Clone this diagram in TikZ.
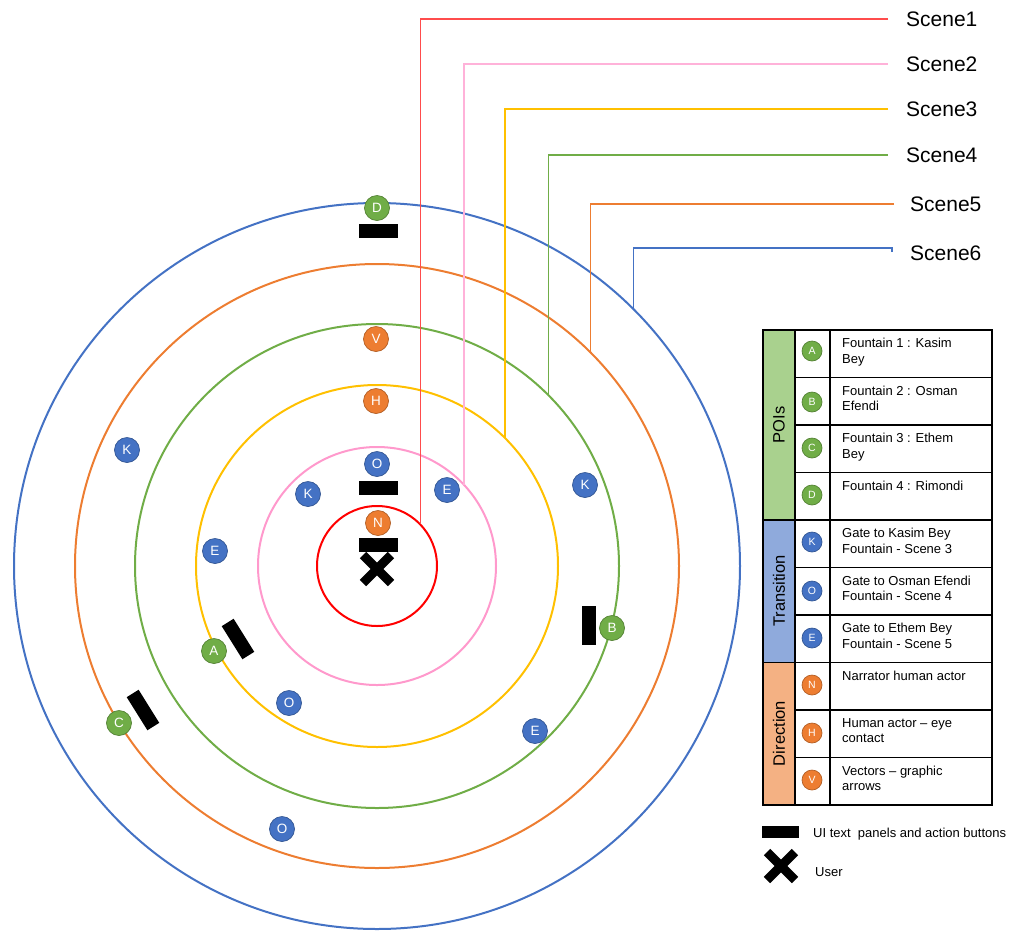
\documentclass[tikz,border=0pt]{standalone}
\usepackage{fontspec}
\setmainfont{Liberation Sans}
\usetikzlibrary{shapes.misc}

\definecolor{cRed}{HTML}{FF0000}
\definecolor{cPink}{HTML}{FF99CC}
\definecolor{cYellow}{HTML}{FFC000}
\definecolor{cGreen}{HTML}{70AD47}
\definecolor{cOrange}{HTML}{ED7D31}
\definecolor{cBlue}{HTML}{4472C4}
\definecolor{cPOI}{HTML}{A9D18E}
\definecolor{cTrans}{HTML}{8FAADC}
\definecolor{cDir}{HTML}{F4B183}

\begin{document}
\begin{tikzpicture}[x=1pt,y=-1pt,
  ring/.style={circle, draw, line width=2pt, inner sep=0pt, outer sep=0pt, minimum size=#1},
  sceneline/.style={draw=#1, line width=1.1pt},
  scenelab/.style={anchor=west, inner xsep=18pt, inner ysep=0pt, font=\fontsize{21}{21}\selectfont},
  mk/.style={circle, fill=#1, draw=#1!75!black, line width=0.7pt, minimum size=25pt, inner sep=0pt,
    text=white, font=\fontsize{13.5}{13.5}\selectfont},
  lmk/.style={mk=#1, minimum size=20pt, font=\fontsize{10.5}{10.5}\selectfont},
  bar/.style={rectangle, fill=black, minimum width=39pt, minimum height=14pt, inner sep=0pt},
  userx/.style={cross out, draw=black, line width=9pt, minimum size=19pt, inner sep=0pt},
  legtext/.style={anchor=north west, inner sep=1pt, align=left, font=\fontsize{13}{15.5}\selectfont},
  cattext/.style={rotate=90, font=\fontsize{16.5}{16.5}\selectfont},
  grid/.style={line width=1.3pt}
]
\useasboundingbox (0,0) rectangle (1010,930);

% concentric scene rings
\node[ring=120pt, draw=cRed]    (r1) at (377,566) {};
\node[ring=238pt, draw=cPink]   (r2) at (377,566) {};
\node[ring=362pt, draw=cYellow] (r3) at (377,566) {};
\node[ring=484pt, draw=cGreen]  (r4) at (377,566) {};
\node[ring=604pt, draw=cOrange] (r5) at (377,566) {};
\node[ring=726pt, draw=cBlue]   (r6) at (377,566) {};

% scene labels and their leader lines
\node[scenelab] (lab1) at (888,19)  {Scene1};
\node[scenelab] (lab2) at (888,64)  {Scene2};
\node[scenelab] (lab3) at (888,109) {Scene3};
\node[scenelab] (lab4) at (888,155) {Scene4};
\node[scenelab, inner xsep=16pt] (lab5) at (894,204) {Scene5};
\node[scenelab, inner xsep=16pt] (lab6) at (894,253) {Scene6};

\draw[sceneline=cRed!70]    (lab1.west) -| (r1.44.2);
\draw[sceneline=cPink!75]   (lab2.west) -| (r2.43.9);
\draw[sceneline=cYellow]    (lab3.west) -| (r3.45.0);
\draw[sceneline=cGreen]     (lab4.west) -| (r4.45.4);
\draw[sceneline=cOrange]    (lab5.west) -| (r5.45.2);
\draw[sceneline=cBlue]      (lab6.west) ++(-2,-1) -- ++(0,-4) -| (r6.45.2);

% points of interest, transitions, direction cues and panels
\node[mk=cGreen]  (D)  at (377,208) {D};
\node[bar]        (barD) at (378,231) {};
\node[mk=cOrange] (V)  at (376,339) {V};
\node[mk=cOrange] (H)  at (376,401) {H};
\node[mk=cBlue]   (O1) at (377,464) {O};
\node[bar]        (barO) at (378,488) {};
\node[mk=cBlue]   (K1) at (308,494) {K};
\node[mk=cBlue]   (E1) at (447,490) {E};
\node[mk=cOrange] (N)  at (378,523) {N};
\node[bar]        (barN) at (378,545) {};
\node[userx]      (user) at (377,569) {};
\node[mk=cBlue]   (K2) at (127,450) {K};
\node[mk=cBlue]   (E2) at (215,551) {E};
\node[mk=cBlue]   (K3) at (585,485) {K};
\node[mk=cGreen]  (A)  at (214,651) {A};
\node[bar, rotate=-58] (barA) at (238,639) {};
\node[mk=cGreen]  (C)  at (119,723) {C};
\node[bar, rotate=-58] (barC) at (143,710) {};
\node[mk=cBlue]   (O2) at (289,703) {O};
\node[mk=cBlue]   (E3) at (535,731) {E};
\node[mk=cBlue]   (O3) at (282,829) {O};
\node[bar, rotate=90] (barB) at (589,625) {};
\node[mk=cGreen]  (B)  at (612,628) {B};

% legend table
\fill[cPOI]   (763,330)   rectangle (795,520);
\fill[cTrans] (763,520)   rectangle (795,662.5);
\fill[cDir]   (763,662.5) rectangle (795,805);
\draw[grid] (763,330) rectangle (992,805);
\draw[grid] (795,330) -- (795,805);
\draw[grid] (830,330) -- (830,805);
\foreach \yy in {377.5,425,472.5,567.5,615,710,757.5}
  \draw[grid] (795,\yy) -- (992,\yy);
\draw[grid] (763,520) -- (992,520);
\draw[grid] (763,662.5) -- (992,662.5);

\node[cattext] (catP) at (779,425)   {POIs};
\node[cattext] (catT) at (779,591)   {Transition};
\node[cattext] (catD) at (779,733.5) {Direction};

\node[lmk=cGreen]  (lA) at (812,351) {A};
\node[lmk=cGreen]  (lB) at (812,402) {B};
\node[lmk=cGreen]  (lC) at (812,448) {C};
\node[lmk=cGreen]  (lD) at (812,495) {D};
\node[lmk=cBlue]   (lK) at (812,542) {K};
\node[lmk=cBlue]   (lO) at (812,591) {O};
\node[lmk=cBlue]   (lE) at (812,638) {E};
\node[lmk=cOrange] (lN) at (812,685) {N};
\node[lmk=cOrange] (lH) at (812,733) {H};
\node[lmk=cOrange] (lV) at (812,780) {V};

\node[legtext] (tA) at (841,337)   {Fountain 1 : Kasim\\Bey};
\node[legtext] (tB) at (841,384.5) {Fountain 2 : Osman\\Efendi};
\node[legtext] (tC) at (841,432)   {Fountain 3 : Ethem\\Bey};
\node[legtext] (tD) at (841,479.5) {Fountain 4 : Rimondi};
\node[legtext] (tK) at (841,527)   {Gate to Kasim Bey\\Fountain - Scene 3};
\node[legtext] (tO) at (841,574.5) {Gate to Osman Efendi\\Fountain - Scene 4};
\node[legtext] (tE) at (841,622)   {Gate to Ethem Bey\\Fountain - Scene 5};
\node[legtext] (tN) at (841,669.5) {Narrator human actor};
\node[legtext] (tH) at (841,717)   {Human actor – eye\\contact};
\node[legtext] (tV) at (841,764.5) {Vectors – graphic\\arrows};

% symbol key
\node[bar, minimum width=37pt, minimum height=12pt] (kbar) at (780,832) {};
\node[anchor=west, inner sep=0pt, font=\fontsize{13}{13}\selectfont] (kbartext) at (813,834) {UI text\ \ panels and action buttons};
\node[userx] (kuser) at (781,866) {};
\node[anchor=west, inner sep=0pt, font=\fontsize{13}{13}\selectfont] (kusertext) at (815,872) {User};
\end{tikzpicture}
\end{document}
